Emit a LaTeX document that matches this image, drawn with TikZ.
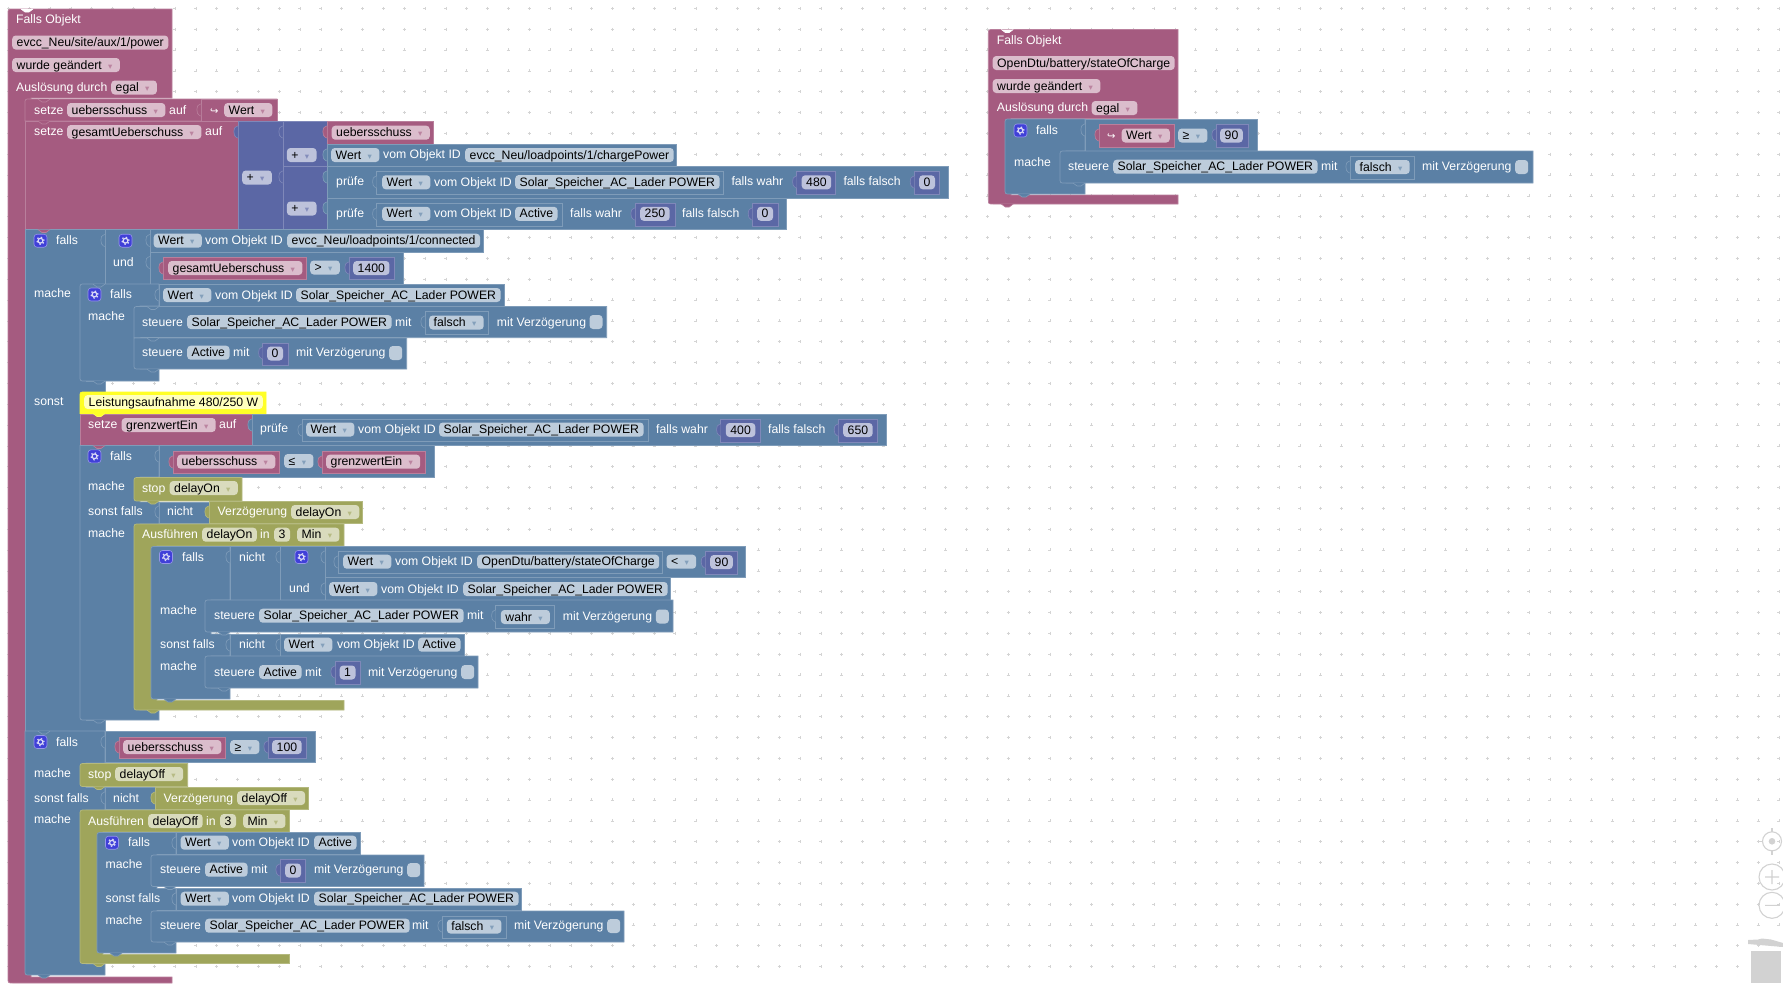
\documentclass[tikz,border=0pt]{standalone}
\usepackage{fontspec}
\setmainfont{Liberation Sans}
\newfontfamily\symfont{DejaVu Sans}
\definecolor{cPink}{HTML}{A55B80}
\definecolor{cBlue}{HTML}{5B80A5}
\definecolor{cOlive}{HTML}{9FA55B}
\definecolor{cMath}{HTML}{5B67A5}
\definecolor{cGear}{HTML}{4040D8}
\definecolor{cYellow}{HTML}{FFFF26}
\definecolor{cDots}{HTML}{D4D4D4}
\definecolor{cTool}{HTML}{D2D2D2}
\colorlet{ddc}{gray}
% dropdown mark, rounded left corners, value tab and next tab
\newcommand{\dd}{\kern6pt\makebox[5pt]{\color{ddc}\symfont\fontsize{8.5}{8}\selectfont ▾}\kern2.5pt}
\newcommand{\solar}{Solar\_Speicher\_AC\_Lader POWER}
\newcommand{\tl}[2]{(#1+5,#2) .. controls (#1,#2) .. (#1,#2+5)}
\newcommand{\bl}[2]{(#1,#2-5) .. controls (#1,#2) .. (#1+5,#2)}
\newcommand{\rowt}[5]{\filldraw[#1] (#4,#3) -- \tl{#2}{#3} -- (#2,#5) -- (#4,#5) -- cycle;}
\newcommand{\rowb}[5]{\filldraw[#1] (#4,#3) -- (#2,#3) -- \bl{#2}{#5} -- (#4,#5) -- cycle;}
\newcommand{\rowr}[5]{\filldraw[#1] (#4,#3) -- \tl{#2}{#3} -- \bl{#2}{#5} -- (#4,#5) -- cycle;}
\newcommand{\tb}[3]{\filldraw[fill=#1,draw=#1!78!white,line width=0.6pt] (#2,#3-6) -- (#2-1.5,#3-5.5) .. controls (#2-5,#3-5.5) and (#2-5,#3+4.5) .. (#2-1.5,#3+5.5) -- (#2,#3+6);}
\newcommand{\nt}[3]{\filldraw[fill=#1,draw=#1!78!white,line width=0.6pt] (#2+13,#3) -- (#2+17,#3+3) -- (#2+21,#3+3) -- (#2+25,#3);}
\tikzset{
  pblk/.style={fill=cPink,draw=cPink!78!white,line width=0.7pt},
  bblk/.style={fill=cBlue,draw=cBlue!78!white,line width=0.7pt},
  oblk/.style={fill=cOlive,draw=cOlive!78!white,line width=0.7pt},
  mblk/.style={fill=cMath,draw=cMath!78!white,line width=0.7pt},
  yblk/.style={fill=cYellow,draw=cYellow,line width=0.7pt},
  txt/.style={anchor=west,inner ysep=0pt,font=\fontsize{12.25}{14}\selectfont,text height=11pt,text depth=3pt},
  lbl/.style={txt,white,inner xsep=0pt},
  fld/.style={txt,black,inner xsep=4.5pt,minimum height=14pt,rounded corners=3.5pt},
  fldp/.style={fld,fill=cPink!40!white,execute at begin node={\colorlet{ddc}{cPink!75!white}}},
  fldb/.style={fld,fill=cBlue!40!white,execute at begin node={\colorlet{ddc}{cBlue!75!white}}},
  fldo/.style={fld,fill=cOlive!40!white,execute at begin node={\colorlet{ddc}{cOlive!75!white}}},
  fldm/.style={fld,fill=cMath!40!white,execute at begin node={\colorlet{ddc}{cMath!75!white}}},
  chkbox/.style={anchor=west,inner sep=0pt,minimum width=13pt,minimum height=14pt,rounded corners=3.5pt,fill=cBlue!40!white},
  gearicon/.style={inner sep=0pt,minimum size=13pt,rounded corners=3pt,fill=cGear,draw=cGear!55!white,line width=0.6pt,
    path picture={\draw[white!80!cGear,line width=1.2pt] (path picture bounding box.center) circle (2.4pt);
      \draw[white!80!cGear,line width=1.2pt,dash pattern=on 1.4pt off 2.4pt] (path picture bounding box.center) circle (3.6pt);}},
}
\begin{document}
\begin{tikzpicture}[x=1pt,y=-1pt]
    \useasboundingbox (0,0) rectangle (1783,983);
    \fill[white] (0,0) rectangle (1783,983);
    \foreach \i in {0,...,85} \foreach \j in {0,...,46}
        \draw[cDots,line width=0.4pt] ({8.33+20.83*\i-1.5},{8.33+20.83*\j}) -- ++(3,0) ({8.33+20.83*\i},{8.33+20.83*\j-1.5}) -- ++(0,3);

    % main trigger
    \filldraw[pblk] (172,9) -- \tl{8}{9} -- \bl{8}{983} -- (172,983) -- (172,977) -- (31,977) -- (31,98) -- (172,98) -- cycle;
    \rowt{pblk}{25}{99}{277}{121}
    \filldraw[pblk] (201,99) rectangle (277,121);
    \filldraw[pblk] (25,121) rectangle (238,229.5);
    \filldraw[mblk] (238,121) rectangle (327,229.5);
    \filldraw[mblk] (283,121) rectangle (327,166.5);
    \filldraw[mblk] (283,166.5) rectangle (327,229.5);
    \filldraw[pblk] (327,121) rectangle (433.3,144);
    \filldraw[bblk] (327,144) rectangle (676.7,166);
    \filldraw[bblk] (327,166) rectangle (948,198);
    \filldraw[bblk] (376.7,171) rectangle (723.5,194.3);
    \filldraw[mblk] (796.7,171) rectangle (835.7,194.3);
    \filldraw[mblk] (914.3,171) rectangle (939.7,194.3);
    \filldraw[bblk] (327,198) rectangle (786.7,229.5);
    \filldraw[bblk] (376.7,203) rectangle (562.3,226);
    \filldraw[mblk] (635,203) rectangle (675,226);
    \filldraw[mblk] (752.3,203) rectangle (778,226);

    % first falls block
    \filldraw[bblk] (105,229.5) -- (25,229.5) -- (25,731) -- (105,731) -- (105,720) -- (86,720) -- (86,392) -- (105,392) -- (105,381) -- (86,381) -- (86,284) -- (105,284) -- cycle;
    \filldraw[bblk] (105,229.5) rectangle (150,284);
    \filldraw[bblk] (150,229.5) rectangle (483.3,252);
    \filldraw[bblk] (150,252) rectangle (403,284);
    \filldraw[pblk] (163,257.5) rectangle (306,279);
    \filldraw[mblk] (349,257.5) rectangle (394,279);
    \filldraw[bblk] (159,284) -- \tl{80}{284} -- \bl{80}{381} -- (159,381) -- (159,369) -- (140,369) -- (140,306) -- (159,306) -- cycle;
    \filldraw[bblk] (159,284) rectangle (504,306);
    \rowt{bblk}{134}{306.5}{606.7}{337.7}
    \filldraw[bblk] (425,311) rectangle (488.5,334);
    \rowb{bblk}{134}{338}{406.7}{369}
    \filldraw[mblk] (262.7,343) rectangle (288,365);

    % sonst part
    \rowt{yblk}{80}{392}{266}{413.5}
    \filldraw[pblk] (80,414) rectangle (252,445.5);
    \filldraw[bblk] (252,414) rectangle (886,445.5);
    \filldraw[bblk] (302,419) rectangle (648.3,441.5);
    \filldraw[mblk] (720.7,419) rectangle (760.3,442);
    \filldraw[mblk] (838.3,419) rectangle (877,442);
    \filldraw[bblk] (159,445.5) -- (80,445.5) -- \bl{80}{720} -- (159,720) -- (159,710) -- (140,710) -- (140,524) -- (159,524) -- (159,502) -- (140,502) -- (140,477) -- (159,477) -- cycle;
    \filldraw[bblk] (159,445.5) rectangle (434,477);
    \filldraw[pblk] (173,451) rectangle (279.5,473);
    \filldraw[pblk] (322,451) rectangle (425,473);
    \rowr{oblk}{134}{477.5}{242}{501}
    \filldraw[bblk] (159,502) rectangle (209,523.7);
    \filldraw[oblk] (209,501.7) rectangle (362.7,523.7);
    \filldraw[oblk] (344,524) -- \tl{134}{524} -- \bl{134}{710} -- (344,710) -- (344,700.5) -- (157,700.5) -- (157,546) -- (344,546) -- cycle;
    \filldraw[bblk] (230,546.5) -- \tl{151}{546.5} -- \bl{151}{699} -- (230,699) -- (230,688) -- (211,688) -- (211,656) -- (230,656) -- (230,634) -- (211,634) -- (211,600) -- (230,600) -- cycle;
    \filldraw[bblk] (230,546.5) rectangle (280,600);
    \filldraw[bblk] (280,546.5) rectangle (325,600);
    \filldraw[bblk] (325,546) rectangle (745.7,577.3);
    \filldraw[bblk] (338,551) rectangle (662.7,573.5);
    \filldraw[mblk] (705.3,551) rectangle (737,574);
    \filldraw[bblk] (325,577.3) rectangle (670.7,600);
    \rowr{bblk}{205}{600}{673}{632}
    \filldraw[bblk] (495.7,605) rectangle (554.7,628);
    \filldraw[bblk] (230,634) rectangle (280,656);
    \filldraw[bblk] (280,634) rectangle (464.3,656);
    \rowr{bblk}{205}{656}{478}{688}
    \filldraw[mblk] (335,661) rectangle (360,684);

    % second falls block
    \filldraw[bblk] (105,731) -- (25,731) -- \bl{25}{975} -- (105,975) -- (105,964) -- (86,964) -- (86,810) -- (105,810) -- (105,787.5) -- (86,787.5) -- (86,763) -- (105,763) -- cycle;
    \filldraw[bblk] (105,731) rectangle (315,762.7);
    \filldraw[pblk] (119,737) rectangle (225.7,758.7);
    \filldraw[mblk] (268,737) rectangle (306,758.7);
    \rowr{oblk}{80}{763.5}{187.7}{786.5}
    \filldraw[bblk] (105,787.5) rectangle (155,809.7);
    \filldraw[oblk] (155,787.5) rectangle (308.7,809.7);
    \filldraw[oblk] (289.5,810) -- \tl{80}{810} -- \bl{80}{963.5} -- (289.5,963.5) -- (289.5,954.5) -- (103,954.5) -- (103,832) -- (289.5,832) -- cycle;
    \filldraw[bblk] (176,832.5) -- \tl{97}{832.5} -- \bl{97}{953} -- (176,953) -- (176,942) -- (157,942) -- (157,910.5) -- (176,910.5) -- (176,888.5) -- (157,888.5) -- (157,854.5) -- (176,854.5) -- cycle;
    \filldraw[bblk] (176,832.5) rectangle (360,854.5);
    \rowr{bblk}{151}{855}{424}{886.5}
    \filldraw[mblk] (280,859.5) rectangle (305.7,882);
    \filldraw[bblk] (176,888.5) rectangle (521.7,910.5);
    \rowr{bblk}{151}{911}{624}{942}
    \filldraw[bblk] (442,916) rectangle (506,938.5);

    % right trigger
    \filldraw[pblk] (1178,29.5) -- \tl{988.3}{29.5} -- \bl{988.3}{204} -- (1178,204) -- (1178,195) -- (1011,195) -- (1011,118.5) -- (1178,118.5) -- cycle;
    \filldraw[bblk] (1085,119) -- \tl{1005}{119} -- \bl{1005}{194} -- (1085,194) -- (1085,183) -- (1066,183) -- (1066,151) -- (1085,151) -- cycle;
    \filldraw[bblk] (1085,119) rectangle (1257,151);
    \filldraw[pblk] (1099,124.5) rectangle (1174.5,147.5);
    \filldraw[mblk] (1216,124.5) rectangle (1248.7,147.5);
    \rowr{bblk}{1060}{151}{1533}{183}
    \filldraw[bblk] (1350,156) rectangle (1414.5,179);

    % next tabs
    \nt{white}{8}{9}
    \nt{white}{988.3}{29.5}
    \nt{cPink}{25}{99}
    \nt{cPink}{25}{121}
    \nt{cPink}{25}{229.5}
    \nt{cBlue}{80}{284}
    \nt{cBlue}{134}{306.5}
    \nt{cBlue}{134}{338}
    \nt{cBlue}{134}{369}
    \nt{cBlue}{80}{381}
    \nt{cYellow}{80}{413.5}
    \nt{cPink}{80}{445.5}
    \nt{cOlive}{134}{501}
    \nt{cOlive}{134}{710}
    \nt{cBlue}{151}{699}
    \nt{cBlue}{205}{632}
    \nt{cBlue}{205}{688}
    \nt{cBlue}{80}{720}
    \nt{cBlue}{25}{731}
    \nt{cOlive}{80}{786.5}
    \nt{cOlive}{80}{963.5}
    \nt{cBlue}{97}{953}
    \nt{cBlue}{151}{886.5}
    \nt{cBlue}{151}{942}
    \nt{cBlue}{25}{975}
    \nt{cPink}{988.3}{204}
    \nt{cBlue}{1005}{194}
    \nt{cBlue}{1060}{183}

    % value tabs
    \tb{cPink}{201}{110}
    \tb{cMath}{238}{132}
    \tb{cMath}{283}{132}
    \tb{cMath}{283}{177}
    \tb{cPink}{327}{132}
    \tb{cBlue}{327}{155}
    \tb{cBlue}{327}{177}
    \tb{cBlue}{327}{208}
    \tb{cBlue}{376.7}{182}
    \tb{cMath}{796.7}{182}
    \tb{cMath}{914.3}{182}
    \tb{cBlue}{376.7}{214}
    \tb{cMath}{635}{214}
    \tb{cMath}{752.3}{214}
    \tb{cBlue}{105}{240.5}
    \tb{cBlue}{150}{240.5}
    \tb{cBlue}{150}{262.5}
    \tb{cPink}{163}{268}
    \tb{cMath}{349}{268}
    \tb{cBlue}{159}{295}
    \tb{cBlue}{425}{322}
    \tb{cMath}{262.7}{353}
    \tb{cBlue}{252}{425}
    \tb{cBlue}{302}{430}
    \tb{cMath}{720.7}{430}
    \tb{cMath}{838.3}{430}
    \tb{cBlue}{159}{456}
    \tb{cPink}{173}{462}
    \tb{cPink}{322}{462}
    \tb{cBlue}{159}{512}
    \tb{cOlive}{209}{512}
    \tb{cBlue}{230}{557}
    \tb{cBlue}{280}{557}
    \tb{cBlue}{325}{557}
    \tb{cBlue}{338}{562}
    \tb{cMath}{705.3}{562}
    \tb{cBlue}{325}{589}
    \tb{cBlue}{495.7}{616}
    \tb{cBlue}{230}{645}
    \tb{cBlue}{280}{645}
    \tb{cMath}{335}{672}
    \tb{cBlue}{105}{742}
    \tb{cPink}{119}{747}
    \tb{cMath}{268}{747}
    \tb{cBlue}{105}{798}
    \tb{cOlive}{155}{798}
    \tb{cBlue}{176}{843}
    \tb{cMath}{280}{870}
    \tb{cBlue}{176}{899}
    \tb{cBlue}{442}{926}
    \tb{cBlue}{1085}{130}
    \tb{cPink}{1099}{135}
    \tb{cMath}{1216}{135}
    \tb{cBlue}{1350}{167}

    % main trigger texts
    \node[lbl] (hdrA) at (16,19.7) {Falls Objekt};
    \node[fldp] (objA) at (12,42.5) {evcc\_Neu/site/aux/1/power};
    \node[fldp] (chgA) at (12,65) {wurde geändert\dd};
    \node[lbl] (trgA) at (16,87) {Auslösung durch};
    \node[fldp] (eglA) at (111,87.5) {egal\dd};
    \node[lbl] (setA) at (34,110) {setze};
    \node[fldp] (varA) at (67,110) {uebersschuss\dd};
    \node[lbl] (aufA) at (169,110) {auf};
    \node[lbl,font=\symfont\fontsize{10}{12}\selectfont] (arwA) at (210,110) {↪};
    \node[fldp] (wrtA) at (224,110) {Wert\dd};
    \node[lbl] (setB) at (34,131.7) {setze};
    \node[fldp] (varB) at (67,132) {gesamtUeberschuss\dd};
    \node[lbl] (aufB) at (205,131.7) {auf};
    \node[fldm] (plsA) at (242,177.5) {+\dd};
    \node[fldm] (plsB) at (286.7,155) {+\dd};
    \node[fldm] (plsC) at (286.7,208.5) {+\dd};
    \node[fldp] (varC) at (331.5,132.7) {uebersschuss\dd};
    \node[fldb] (wrtB) at (331,155) {Wert\dd};
    \node[lbl] (idsA) at (383,154.7) {vom Objekt ID};
    \node[fldb] (objB) at (465,155) {evcc\_Neu/loadpoints/1/chargePower};
    \node[lbl] (prfA) at (336,181.7) {prüfe};
    \node[fldb] (wrtC) at (382,182.3) {Wert\dd};
    \node[lbl] (idsB) at (434,182) {vom Objekt ID};
    \node[fldb] (objC) at (515,182) {\solar};
    \node[lbl] (fwA) at (731.3,181.7) {falls wahr};
    \node[fldm] (numA) at (801.5,182.3) {480};
    \node[lbl] (ffA) at (843.3,181.7) {falls falsch};
    \node[fldm] (numB) at (919,182.3) {0};
    \node[lbl] (prfB) at (336,213) {prüfe};
    \node[fldb] (wrtD) at (382,213.8) {Wert\dd};
    \node[lbl] (idsC) at (434,213.8) {vom Objekt ID};
    \node[fldb] (objD) at (515,213.8) {Active};
    \node[lbl] (fwB) at (570,213) {falls wahr};
    \node[fldm] (numC) at (640,213.8) {250};
    \node[lbl] (ffB) at (682,213) {falls falsch};
    \node[fldm] (numD) at (757,213.8) {0};

    % first falls texts
    \node[gearicon] (gearA) at (40.5,240.7) {};
    \node[lbl] (flsA) at (56,240.7) {falls};
    \node[gearicon] (gearB) at (125.5,240.7) {};
    \node[lbl] (undA) at (113,262.7) {und};
    \node[fldb] (wrtE) at (153.5,240.7) {Wert\dd};
    \node[lbl] (idsD) at (205,240.7) {vom Objekt ID};
    \node[fldb] (objE) at (287,240.7) {evcc\_Neu/loadpoints/1/connected};
    \node[fldp] (varD) at (168,268) {gesamtUeberschuss\dd};
    \node[fldb] (cmpA) at (310,267.5) {>\dd};
    \node[fldm] (numE) at (353,268) {1400};
    \node[lbl] (mchA) at (34,293.5) {mache};
    \node[gearicon] (gearC) at (94.5,294.5) {};
    \node[lbl] (flsB) at (110,294.5) {falls};
    \node[fldb] (wrtF) at (163,295) {Wert\dd};
    \node[lbl] (idsE) at (215,295) {vom Objekt ID};
    \node[fldb] (objF) at (296,295) {\solar};
    \node[lbl] (mchB) at (88,316.7) {mache};
    \node[lbl] (stgA) at (142,322) {steuere};
    \node[fldb] (objG) at (187,322) {\solar};
    \node[lbl] (mitA) at (395,322) {mit};
    \node[fldb] (valA) at (429,322.5) {falsch\dd};
    \node[lbl] (vrzA) at (496.7,322) {mit Verzögerung};
    \node[chkbox] (chkA) at (589.3,322) {};
    \node[lbl] (stgB) at (142,352.7) {steuere};
    \node[fldb] (objH) at (187,352.7) {Active};
    \node[lbl] (mitB) at (233,352.7) {mit};
    \node[fldm] (numF) at (267,353.5) {0};
    \node[lbl] (vrzB) at (296,352.7) {mit Verzögerung};
    \node[chkbox] (chkB) at (389,353) {};

    % sonst texts
    \node[lbl] (snsA) at (34,401.7) {sonst};
    \node[txt,black,inner xsep=4.5pt,minimum height=14pt,rounded corners=3.5pt,fill=cYellow!30!white] (cmtA) at (84,402) {Leistungsaufnahme 480/250 W};
    \node[lbl] (setC) at (88,424.7) {setze};
    \node[fldp] (varE) at (121.5,425) {grenzwertEin\dd};
    \node[lbl] (aufC) at (219,424.7) {auf};
    \node[lbl] (prfC) at (260,428.7) {prüfe};
    \node[fldb] (wrtG) at (306,429.5) {Wert\dd};
    \node[lbl] (idsF) at (358,429.5) {vom Objekt ID};
    \node[fldb] (objI) at (439,429.5) {\solar};
    \node[lbl] (fwC) at (656,429) {falls wahr};
    \node[fldm] (numG) at (725.7,430) {400};
    \node[lbl] (ffC) at (768,429) {falls falsch};
    \node[fldm] (numH) at (843,430) {650};
    \node[gearicon] (gearD) at (94.5,456.3) {};
    \node[lbl] (flsC) at (110,456.3) {falls};
    \node[fldp] (varF) at (177,461.7) {uebersschuss\dd};
    \node[fldb] (cmpB) at (284,461) {≤\dd};
    \node[fldp] (varG) at (326,461.7) {grenzwertEin\dd};
    \node[lbl] (mchC) at (88,486.7) {mache};
    \node[lbl] (stpA) at (142,488) {stop};
    \node[fldo] (dlyA) at (169.5,488) {delayOn\dd};
    \node[lbl] (slfA) at (88,511.7) {sonst falls};
    \node[lbl] (nchA) at (167,511.7) {nicht};
    \node[lbl] (vzgA) at (217.5,511.7) {Verzögerung};
    \node[fldo] (dlyB) at (291,512) {delayOn\dd};
    \node[lbl] (mchD) at (88,533.7) {mache};
    \node[lbl] (ausA) at (142,534.7) {Ausführen};
    \node[fldo] (dlyC) at (202,534.7) {delayOn};
    \node[lbl] (inA) at (260,534.7) {in};
    \node[fldo] (minA) at (274,534.7) {3};
    \node[fldo] (uniA) at (297,534.7) {Min\dd};
    \node[gearicon] (gearE) at (166,557) {};
    \node[lbl] (flsD) at (182,557) {falls};
    \node[lbl] (nchB) at (239,557) {nicht};
    \node[gearicon] (gearF) at (301.5,557) {};
    \node[fldb] (wrtH) at (343,561.7) {Wert\dd};
    \node[lbl] (idsG) at (395,561.7) {vom Objekt ID};
    \node[fldb] (objJ) at (477,561.7) {OpenDtu/battery/stateOfCharge};
    \node[fldb] (cmpC) at (666.3,561.7) {<\dd};
    \node[fldm] (numI) at (710,562) {90};
    \node[lbl] (undB) at (289,588.7) {und};
    \node[fldb] (wrtI) at (329,589) {Wert\dd};
    \node[lbl] (idsH) at (381,589) {vom Objekt ID};
    \node[fldb] (objK) at (463,589) {\solar};
    \node[lbl] (mchE) at (160,610.7) {mache};
    \node[lbl] (stgC) at (214,615.7) {steuere};
    \node[fldb] (objL) at (259,615.7) {\solar};
    \node[lbl] (mitC) at (467,615.7) {mit};
    \node[fldb] (valB) at (500.7,617) {wahr\dd};
    \node[lbl] (vrzC) at (562.7,616) {mit Verzögerung};
    \node[chkbox] (chkC) at (655.7,616.5) {};
    \node[lbl] (slfB) at (160,644.7) {sonst falls};
    \node[lbl] (nchC) at (239,644.7) {nicht};
    \node[fldb] (wrtJ) at (284,644.7) {Wert\dd};
    \node[lbl] (idsI) at (337,644.7) {vom Objekt ID};
    \node[fldb] (objM) at (418,644.7) {Active};
    \node[lbl] (mchF) at (160,666.7) {mache};
    \node[lbl] (stgD) at (214,672) {steuere};
    \node[fldb] (objN) at (259,672) {Active};
    \node[lbl] (mitD) at (305,672) {mit};
    \node[fldm] (numJ) at (339.5,672.5) {1};
    \node[lbl] (vrzD) at (368,672) {mit Verzögerung};
    \node[chkbox] (chkD) at (461,672) {};

    % second falls texts
    \node[gearicon] (gearG) at (40.5,742) {};
    \node[lbl] (flsE) at (56,742) {falls};
    \node[fldp] (varH) at (123,747) {uebersschuss\dd};
    \node[fldb] (cmpD) at (230,747) {≥\dd};
    \node[fldm] (numK) at (272,747) {100};
    \node[lbl] (mchG) at (34,773) {mache};
    \node[lbl] (stpB) at (88,774) {stop};
    \node[fldo] (dlyD) at (115,774) {delayOff\dd};
    \node[lbl] (slfC) at (34,798) {sonst falls};
    \node[lbl] (nchD) at (113,798) {nicht};
    \node[lbl] (vzgB) at (163.5,798) {Verzögerung};
    \node[fldo] (dlyE) at (237,798) {delayOff\dd};
    \node[lbl] (mchH) at (34,819.7) {mache};
    \node[lbl] (ausB) at (88,821) {Ausführen};
    \node[fldo] (dlyF) at (148,821) {delayOff};
    \node[lbl] (inB) at (206,821) {in};
    \node[fldo] (minB) at (220,821) {3};
    \node[fldo] (uniB) at (243,821) {Min\dd};
    \node[gearicon] (gearH) at (112,842.7) {};
    \node[lbl] (flsF) at (128,842.7) {falls};
    \node[fldb] (wrtK) at (180.5,842.7) {Wert\dd};
    \node[lbl] (idsJ) at (232,842.7) {vom Objekt ID};
    \node[fldb] (objO) at (314,842.7) {Active};
    \node[lbl] (mchI) at (105.5,864.7) {mache};
    \node[lbl] (stgE) at (160,869.7) {steuere};
    \node[fldb] (objP) at (205,869.7) {Active};
    \node[lbl] (mitE) at (251,869.7) {mit};
    \node[fldm] (numL) at (285,870.5) {0};
    \node[lbl] (vrzE) at (314,869.7) {mit Verzögerung};
    \node[chkbox] (chkE) at (407,870) {};
    \node[lbl] (slfD) at (105.5,898.7) {sonst falls};
    \node[fldb] (wrtL) at (180.5,898.7) {Wert\dd};
    \node[lbl] (idsK) at (232,898.7) {vom Objekt ID};
    \node[fldb] (objQ) at (314,898.7) {\solar};
    \node[lbl] (mchJ) at (105.5,920.7) {mache};
    \node[lbl] (stgF) at (160,925.7) {steuere};
    \node[fldb] (objR) at (205,925.7) {\solar};
    \node[lbl] (mitF) at (412,925.7) {mit};
    \node[fldb] (valC) at (446.7,926.5) {falsch\dd};
    \node[lbl] (vrzF) at (514,925.7) {mit Verzögerung};
    \node[chkbox] (chkF) at (607,926) {};

    % right trigger texts
    \node[lbl] (hdrB) at (996.7,40.7) {Falls Objekt};
    \node[fldp] (objS) at (992.5,63) {OpenDtu/battery/stateOfCharge};
    \node[fldp] (chgB) at (992.5,86) {wurde geändert\dd};
    \node[lbl] (trgB) at (996.7,107.7) {Auslösung durch};
    \node[fldp] (eglB) at (1091.5,108) {egal\dd};
    \node[gearicon] (gearI) at (1020.5,130.5) {};
    \node[lbl] (flsG) at (1036,130.5) {falls};
    \node[lbl,font=\symfont\fontsize{10}{12}\selectfont] (arwB) at (1107,135.5) {↪};
    \node[fldp] (wrtM) at (1121.5,135.5) {Wert\dd};
    \node[fldb] (cmpE) at (1178,135.5) {≥\dd};
    \node[fldm] (numM) at (1220,135.5) {90};
    \node[lbl] (mchK) at (1014,162) {mache};
    \node[lbl] (stgG) at (1068,166.7) {steuere};
    \node[fldb] (objT) at (1113,166.7) {\solar};
    \node[lbl] (mitG) at (1321,166.7) {mit};
    \node[fldb] (valD) at (1355,167) {falsch\dd};
    \node[lbl] (vrzG) at (1422,166.7) {mit Verzögerung};
    \node[chkbox] (chkG) at (1515,167) {};

    % workspace controls
    \draw[cTool,line width=1.1pt] (1772,841.3) circle (9.5pt);
    \fill[cTool] (1772,841.3) circle (3.3pt);
    \draw[cTool,line width=1.1pt] (1772,828) -- (1772,832) (1772,851) -- (1772,854.5) (1758.5,841.3) -- (1762.5,841.3);
    \draw[cTool,line width=1.1pt] (1772,877) circle (13pt) (1765,877) -- (1779,877) (1772,870) -- (1772,884);
    \draw[cTool,line width=1.1pt] (1772,905.3) circle (13pt) (1765,905.3) -- (1779,905.3);
    \fill[cTool] (1748,940) -- (1758,939.5) -- (1762,938.5) -- (1771,939.5) -- (1783,943) -- (1783,947) -- (1748,944) -- cycle;
    \fill[cTool] (1751,950.5) rectangle (1781,983);
\end{tikzpicture}
\end{document}
